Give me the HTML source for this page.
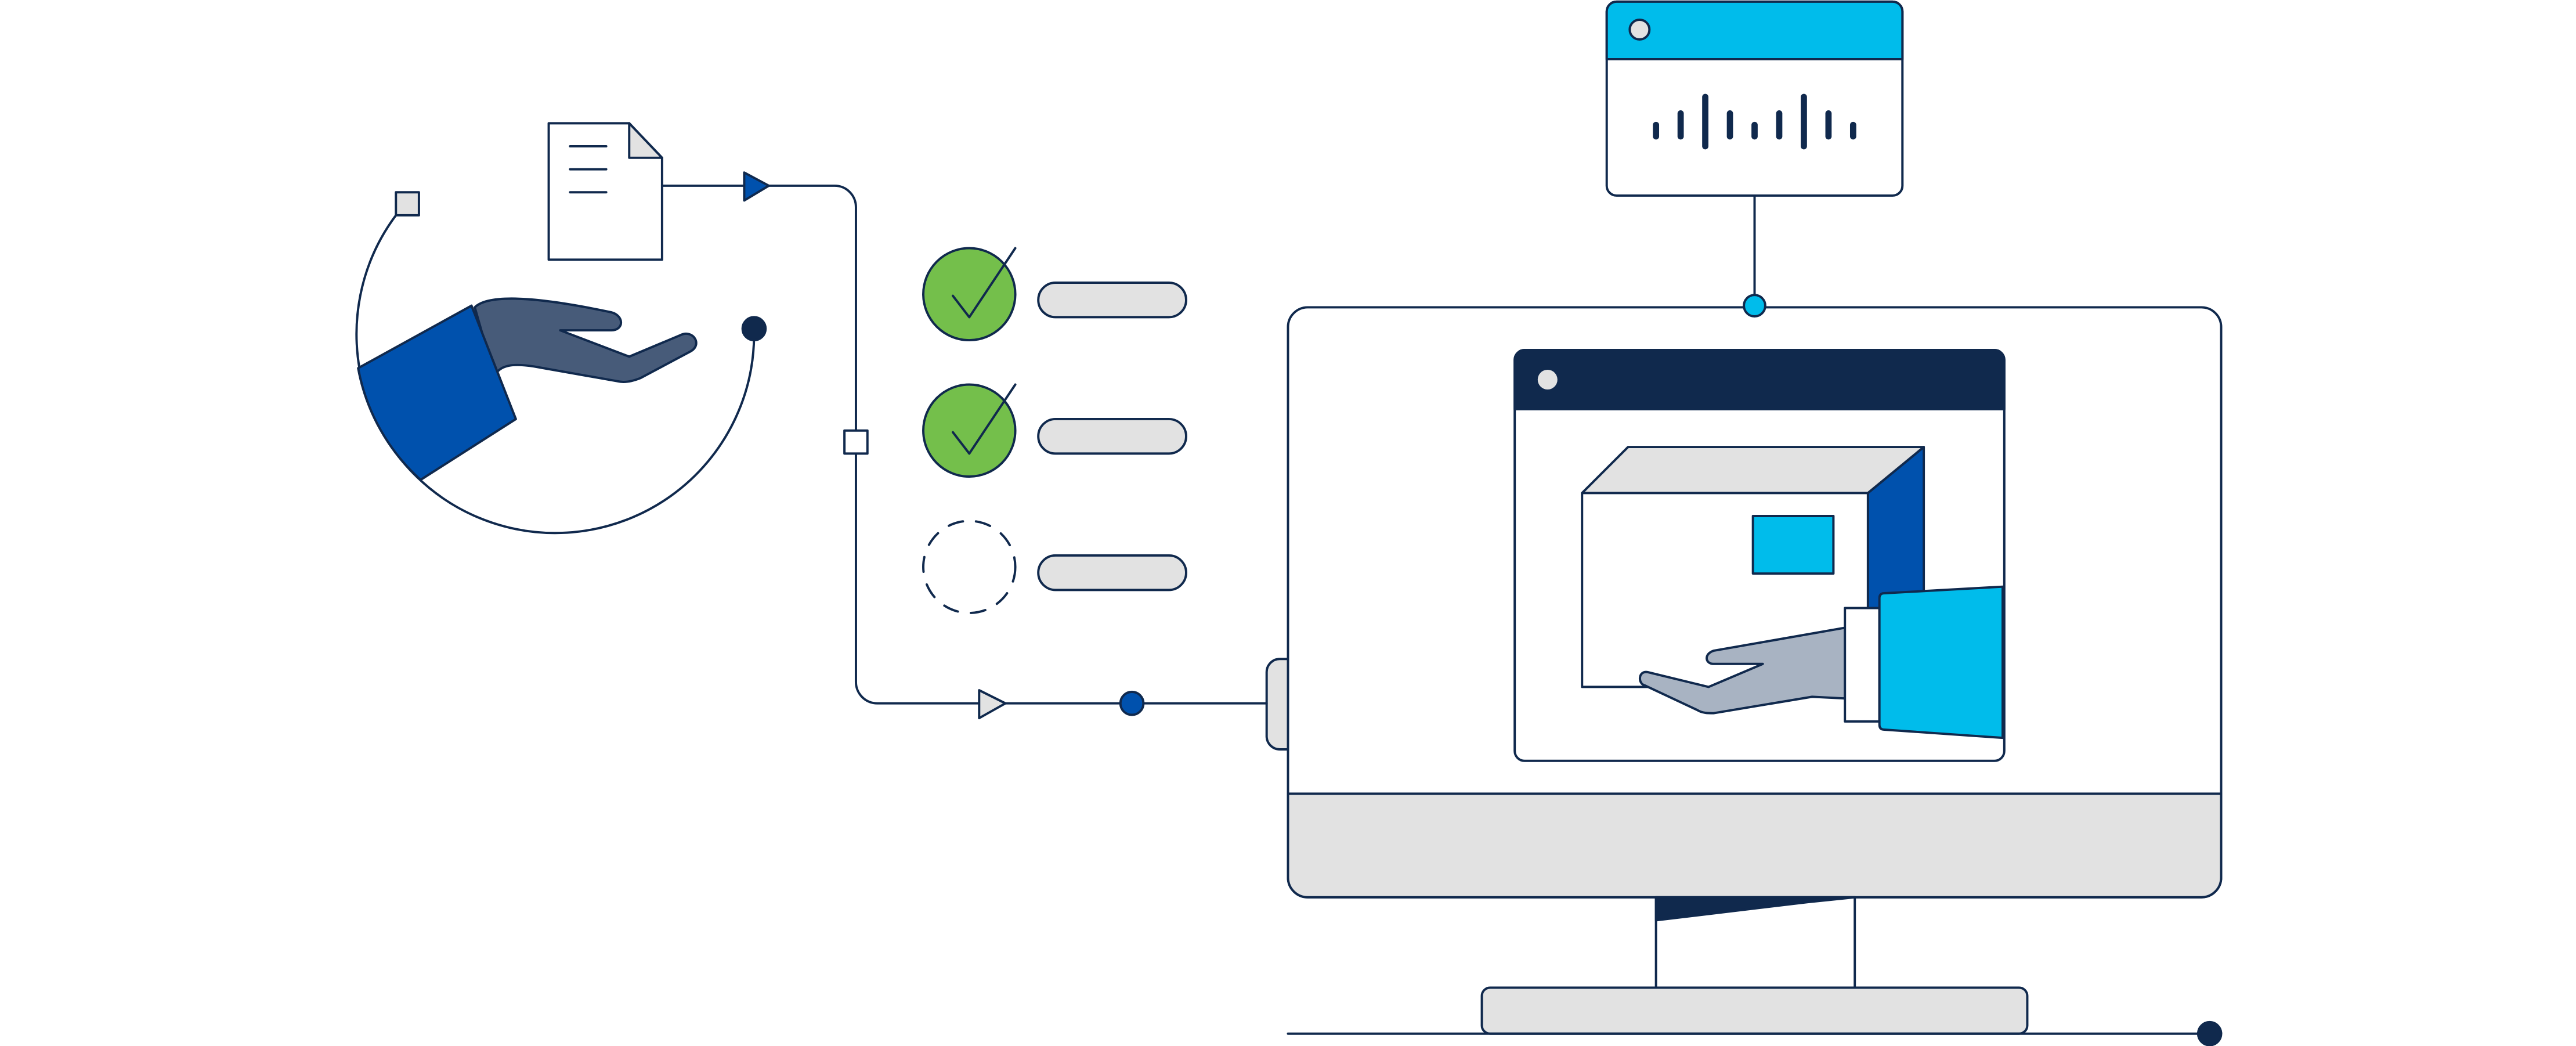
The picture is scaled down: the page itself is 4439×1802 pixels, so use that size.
<!DOCTYPE html>
<html><head><meta charset="utf-8"><style>html,body{margin:0;padding:0;background:#fff;width:4439px;height:1802px;overflow:hidden}</style></head>
<body>
<svg width="4439" height="1802" viewBox="0 0 1568 636.5" xmlns="http://www.w3.org/2000/svg" fill="none" stroke="#10294d" stroke-width="1.4" stroke-linejoin="round" stroke-linecap="round">
<!-- top audio window -->
<rect x="978" y="1" width="180" height="118" rx="6" fill="#fff"/>
<path d="M978,36 V7 a6,6 0 0 1 6,-6 H1152 a6,6 0 0 1 6,6 V36 Z" fill="#00bceb"/>
<circle cx="998" cy="18" r="6" fill="#e2e2e2"/>
<g stroke-width="3.8">
<line x1="1008" y1="76" x2="1008" y2="83"/><line x1="1023" y1="69" x2="1023" y2="83"/><line x1="1038" y1="59" x2="1038" y2="89"/>
<line x1="1053" y1="69" x2="1053" y2="83"/><line x1="1068" y1="76" x2="1068" y2="83"/><line x1="1083" y1="69" x2="1083" y2="83"/>
<line x1="1098" y1="59" x2="1098" y2="89"/><line x1="1113" y1="69" x2="1113" y2="83"/><line x1="1128" y1="76" x2="1128" y2="83"/>
</g>
<line x1="1068" y1="119" x2="1068" y2="186"/>
<!-- side button -->
<rect x="771" y="401" width="20" height="55" rx="8" fill="#e2e2e2"/>
<!-- monitor -->
<rect x="784" y="187" width="568" height="359" rx="12" fill="#fff"/>
<path d="M784,483 H1352 V534 a12,12 0 0 1 -12,12 H796 a12,12 0 0 1 -12,-12 Z" fill="#e2e2e2"/>
<circle cx="1068" cy="186" r="6.5" fill="#00bceb"/>
<!-- stand -->
<line x1="1008" y1="546" x2="1008" y2="601"/><line x1="1129" y1="546" x2="1129" y2="601"/>
<path d="M1008,546 H1129 L1100,549 L1008,560 Z" fill="#10294d"/>
<rect x="902" y="601" width="332" height="28" rx="5" fill="#e2e2e2"/>
<line x1="784" y1="629" x2="1345" y2="629"/>
<circle cx="1345" cy="629" r="7" fill="#10294d"/>
<!-- inner window -->
<rect x="922" y="213" width="298" height="250" rx="6" fill="#fff"/>
<path d="M922,249 V219 a6,6 0 0 1 6,-6 H1214 a6,6 0 0 1 6,6 V249 Z" fill="#10294d"/>
<circle cx="942" cy="231" r="6" fill="#e2e2e2" stroke="none"/>
<!-- box -->
<path d="M1137,300 L1171,272 V372 H1137 Z" fill="#0051ad"/>
<path d="M963,300 L991,272 H1171 L1137,300 Z" fill="#e2e2e2"/>
<rect x="963" y="300" width="174" height="118" fill="#fff"/>
<rect x="1067" y="314" width="49" height="35" fill="#00bceb"/>
<!-- hand right -->
<path d="M1123,382 L1043,396 C1037,398 1038,404 1043,404 L1073,404 L1040,418 L1003,409 C997,408 997,416 1001,417 L1033,432 C1036,434 1040,434 1043,434 L1103,424 L1123,425 Z" fill="#a8b3c2"/>
<rect x="1123" y="370" width="21" height="69" fill="#fff"/>
<path d="M1147,361 L1219,357 V449 L1147,444 C1145,444 1144,443 1144,441 V364 C1144,362 1145,361 1147,361 Z" fill="#00bceb"/>
<!-- left arc -->
<path d="M241,131 A121,121 0 1 0 459,204 L459,200"/>
<rect x="241" y="117" width="14" height="14" fill="#e2e2e2"/>
<circle cx="459" cy="200" r="7" fill="#10294d"/>
<path d="M289,187 C296,180 320,179 372,190 C380,192 380,201 372,201 L341,201 L383,217 L414,204 C422,200 428,210 420,214 L390,230 C385,232 380,233 376,232 L325,223 C312,221 304,222 301,229 Z" fill="#475b79"/>
<path d="M218,224 L287,186 L314,255 L256,292 A121,121 0 0 1 218,224 Z" fill="#0051ad"/>
<!-- document -->
<path d="M334,75 H383 L403,96 V158 H334 Z" fill="#fff"/>
<path d="M383,75 V96 H403 Z" fill="#e2e2e2"/>
<line x1="347" y1="89" x2="369" y2="89"/><line x1="347" y1="103" x2="369" y2="103"/><line x1="347" y1="117" x2="369" y2="117"/>
<!-- connector -->
<path d="M403,113 H508 a13,13 0 0 1 13,13 V415 a13,13 0 0 0 13,13 H771"/>
<path d="M453,105 L468,113 L453,122 Z" fill="#0051ad"/>
<rect x="514" y="262" width="14" height="14" fill="#fff"/>
<path d="M596,420 L612,428 L596,437 Z" fill="#e2e2e2"/>
<circle cx="689" cy="428" r="7" fill="#0051ad"/>
<!-- checks -->
<circle cx="590" cy="179" r="28" fill="#74bf4b"/>
<path d="M580,180 L590,193 L618,151"/>
<circle cx="590" cy="262" r="28" fill="#74bf4b"/>
<path d="M580,263 L590,276 L618,234"/>
<circle cx="590" cy="345" r="28" fill="none" stroke-dasharray="9 8"/>
<rect x="632" y="172" width="90" height="21" rx="10.5" fill="#e2e2e2"/>
<rect x="632" y="255" width="90" height="21" rx="10.5" fill="#e2e2e2"/>
<rect x="632" y="338" width="90" height="21" rx="10.5" fill="#e2e2e2"/>
</svg>
</body></html>
